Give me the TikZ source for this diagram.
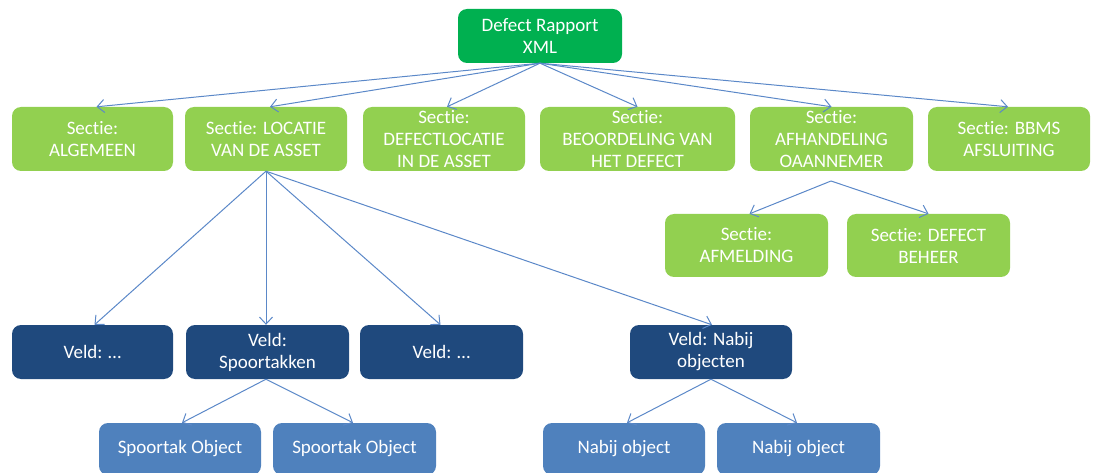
\documentclass[tikz,border=0pt]{standalone}
\usepackage{fontspec}
\setmainfont[Ligatures=NoCommon]{Carlito}
\usetikzlibrary{arrows.meta}

\definecolor{rapportgroen}{HTML}{00B050}
\definecolor{sectiegroen}{HTML}{92D050}
\definecolor{velddonker}{HTML}{1F497D}
\definecolor{objectblauw}{HTML}{4F81BD}
\definecolor{pijlblauw}{HTML}{5B88C8}

\tikzset{
	blok/.style={rectangle,rounded corners=9pt,draw=none,text=white,align=center,
		inner sep=2pt,font=\fontsize{19}{22}\selectfont},
	pijl/.style={draw=pijlblauw,line width=1pt,-{Straight Barb[length=7pt,width=13pt]}}
}

\newcommand{\blok}[6]
{
	\node[blok,fill=#1,minimum width=#2,minimum height=#3] at (#4) (#5) {#6}
}

\begin{document}
\begin{tikzpicture}[x=1pt,y=-1pt]
	\useasboundingbox (0,0) rectangle (1093,473);
	
	%%% Rapport
	\blok{rapportgroen}{164pt}{54pt}{540,36}{rapport}{Defect Rapport\\XML};
	
	%%% Secties
	\blok{sectiegroen}{161pt}{64pt}{92.5,139}{algemeen}{Sectie:\\ALGEMEEN};
	\blok{sectiegroen}{162pt}{64pt}{266,139}{locatie}{Sectie: LOCATIE\\VAN DE ASSET};
	\blok{sectiegroen}{162pt}{64pt}{444,139}{defectlocatie}{Sectie:\\DEFECTLOCATIE\\IN DE ASSET};
	\blok{sectiegroen}{195pt}{64pt}{637.5,139}{beoordeling}{Sectie:\\BEOORDELING VAN\\HET DEFECT};
	\blok{sectiegroen}{163pt}{64pt}{831.5,139}{afhandeling}{Sectie:\\AFHANDELING\\OAANNEMER};
	\blok{sectiegroen}{162pt}{64pt}{1009,139}{bbms}{Sectie: BBMS\\AFSLUITING};
	
	\draw[pijl] (rapport.south) -- ([xshift=4pt]algemeen.north);
	\draw[pijl] (rapport.south) -- ([xshift=4pt]locatie.north);
	\draw[pijl] (rapport.south) -- ([xshift=3pt]defectlocatie.north);
	\draw[pijl] (rapport.south) -- (beoordeling.north);
	\draw[pijl] (rapport.south) -- (afhandeling.north);
	\draw[pijl] (rapport.south) -- ([xshift=-1pt]bbms.north);
	
	%%% Secties onder AFHANDELING
	\blok{sectiegroen}{163pt}{63pt}{746.5,245.5}{afmelding}{Sectie:\\AFMELDING};
	\blok{sectiegroen}{163pt}{63pt}{928.5,245.5}{beheer}{Sectie: DEFECT\\BEHEER};
	
	\coordinate (afhandelingbron) at (831,181);
	\draw[pijl] (afhandelingbron) -- ([xshift=3pt]afmelding.north);
	\draw[pijl] (afhandelingbron) -- (beheer.north);
	
	%%% Velden onder LOCATIE
	\blok{velddonker}{161pt}{54pt}{92.5,352}{veld1}{Veld: \dots};
	\blok{velddonker}{163pt}{54pt}{267.5,352}{spoortakken}{Veld:\\Spoortakken};
	\blok{velddonker}{163pt}{54pt}{441.5,352}{veld3}{Veld: \dots};
	\blok{velddonker}{162pt}{54pt}{711,352}{nabij}{Veld: Nabij\\objecten};
	
	\draw[pijl] (locatie.south) -- ([xshift=2pt]veld1.north);
	\draw[pijl] (locatie.south) -- ([xshift=-1.5pt]spoortakken.north);
	\draw[pijl] (locatie.south) -- ([xshift=-1pt]veld3.north);
	\draw[pijl] (locatie.south) -- ([xshift=1pt]nabij.north);
	
	%%% Objecten
	\blok{objectblauw}{162pt}{52pt}{180,449}{spoortak1}{Spoortak Object};
	\blok{objectblauw}{163pt}{52pt}{354.5,449}{spoortak2}{Spoortak Object};
	\blok{objectblauw}{162pt}{52pt}{624,449}{nabijobject1}{Nabij object};
	\blok{objectblauw}{163pt}{52pt}{798.5,449}{nabijobject2}{Nabij object};
	
	\draw[pijl] ([xshift=-1.5pt]spoortakken.south) -- ([xshift=2pt]spoortak1.north);
	\draw[pijl] ([xshift=-1.5pt]spoortakken.south) -- ([xshift=-1.5pt]spoortak2.north);
	\draw[pijl] (nabij.south) -- ([xshift=3pt]nabijobject1.north);
	\draw[pijl] (nabij.south) -- ([xshift=-1.5pt]nabijobject2.north);
\end{tikzpicture}
\end{document}
